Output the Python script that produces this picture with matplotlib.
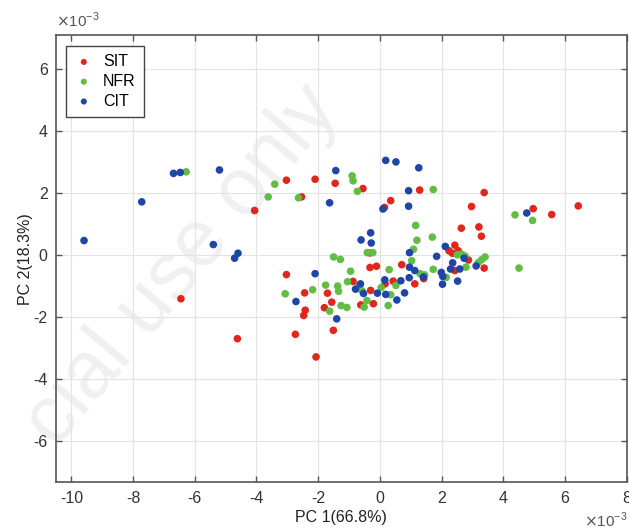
import numpy as np
import matplotlib.pyplot as plt

plt.rcParams['font.family'] = ['Liberation Sans', 'DejaVu Sans']
plt.rcParams['axes.unicode_minus'] = False

# PCA scores, in units of 1e-3
sit_x = [-4.06, -3.03, -2.54, -2.10, -1.45, -0.55, -6.45, -4.62, -3.03, -2.44,
         -2.42, -2.47, -2.74, -2.07, -1.70, -1.80, -1.56, -1.51, -0.87, -0.32,
         -0.32, -0.11, -0.30, -0.62, -0.21, 0.35, 0.15, 1.29, 3.38, 2.97,
         2.64, 3.21, 3.29, 2.43, 2.24, 2.35, 2.54, 2.87, 3.38, 2.43,
         0.71, 1.42, 1.13, 0.43, 0.17, 4.97, 5.57, 6.43]
sit_y = [1.43, 2.41, 1.87, 2.44, 2.31, 2.14, -1.42, -2.71, -0.64, -1.23,
         -1.79, -1.96, -2.57, -3.30, -1.24, -1.71, -1.53, -2.44, -0.86, 0.06,
         -0.41, -0.37, -1.15, -1.62, -1.58, 1.75, 1.53, 2.09, 2.01, 1.56,
         0.86, 0.90, 0.60, 0.31, 0.13, 0.05, 0.13, -0.17, -0.43, -0.51,
         -0.32, -0.77, -0.94, -0.85, -0.94, 1.49, 1.30, 1.58]

nfr_x = [-6.28, -3.62, -3.41, -2.64, -0.90, -0.87, -0.73, 1.73, -3.07, -2.18,
         -1.76, -1.37, -1.34, -1.63, -1.26, -1.07, -1.50, -1.28, -0.41, -0.23,
         -0.95, -1.05, -0.70, -0.58, -0.51, -0.42, 0.04, 0.30, 0.52, 0.35,
         0.27, 1.16, 1.20, 1.70, 1.09, 1.03, 1.73, 1.30, 1.45, 2.15,
         2.51, 2.65, 2.76, 2.79, 3.19, 3.30, 3.41, 4.38, 4.95, 4.51]
nfr_y = [2.68, 1.87, 2.28, 1.84, 2.55, 2.39, 2.05, 2.11, -1.26, -1.13,
         -0.98, -1.01, -1.18, -1.82, -1.64, -1.70, -0.07, -0.15, 0.07, 0.07,
         -0.53, -0.87, -1.03, -1.16, -1.69, -1.48, -1.06, -0.48, -0.99, -1.29,
         -1.64, 0.95, 0.47, 0.57, 0.18, -0.19, -0.47, -0.61, -0.65, -0.73,
         0.00, 0.02, -0.04, -0.40, -0.25, -0.16, -0.07, 1.29, 1.11, -0.43]

cit_x = [-9.59, -7.72, -6.69, -6.47, -5.20, -5.40, -4.71, -4.60, -2.72, -2.10,
         -1.63, -1.43, -1.40, -0.79, -0.63, -0.53, -0.61, -0.30, -0.28, -0.08,
         0.19, 0.52, 1.26, 0.93, 0.93, 0.10, 2.12, 1.84, 0.96, 0.96,
         1.13, 1.99, 2.04, 2.03, 2.52, 2.36, 2.29, 2.59, 2.73, 3.12,
         0.16, 0.68, 0.95, 0.80, 0.19, 0.55, 4.76, 1.41]
cit_y = [0.46, 1.71, 2.63, 2.66, 2.74, 0.33, -0.11, 0.05, -1.51, -0.61,
         1.68, 2.72, -2.07, -1.11, -0.94, -1.25, 0.48, 0.71, 0.38, -1.24,
         3.05, 3.00, 2.81, 2.07, 1.57, 1.48, 0.27, -0.05, 0.07, -0.40,
         -0.51, -0.57, -0.70, -0.95, -0.85, -0.26, -0.46, -0.46, -0.11, -0.36,
         -0.81, -0.84, -0.74, -1.23, -1.28, -1.46, 1.35, -0.72]

groups = ['SIT', 'NFR', 'CIT']
colors = ['#e3261c', '#62bd45', '#1f45a6']
xs = [sit_x, nfr_x, cit_x]
ys = [sit_y, nfr_y, cit_y]

fig = plt.figure(figsize=(6.29, 5.32), dpi=100)
ax = fig.add_axes([0.089, 0.0934, 0.9073, 0.8408])

# faint watermark behind everything
fig.text(0.29, 0.50, 'cial use only', fontsize=58, color='#f0f0f0',
         rotation=50, ha='center', va='center', zorder=-1)
ax.set_facecolor('none')

for name, c, x, y in zip(groups, colors, xs, ys):
    ax.scatter(x, y, s=30, color=c, edgecolors='none', label=name, zorder=3)

ax.set_xlim(-10.5, 8)
ax.set_ylim(-7.35, 7.1)
ax.set_xticks(np.arange(-10, 9, 2))
ax.set_yticks(np.arange(-6, 7, 2))
ax.grid(True, color='#e3e3e3', linewidth=0.8, zorder=0)
ax.set_axisbelow(True)

ax.tick_params(direction='in', length=4, width=1, top=True, right=True,
               color='#555555', labelsize=11.5, labelcolor='#333333', pad=6)
for sp in ax.spines.values():
    sp.set_color('#555555')
    sp.set_linewidth(1.2)

ax.set_xlabel('PC 1(66.8%)', fontsize=11.5, color='#222222', labelpad=3)
ax.set_ylabel('PC 2(18.3%)', fontsize=11.5, color='#222222', labelpad=0)

ax.text(0.0, 1.012, r'$\times$10$^{\mathregular{-3}}$', transform=ax.transAxes,
        fontsize=11, color='#555555', ha='left', va='bottom')
fig.text(0.997, 0.004, r'$\times$10$^{\mathregular{-3}}$',
         fontsize=11, color='#555555', ha='right', va='bottom')

leg = ax.legend(loc='upper left', bbox_to_anchor=(0.004, 0.993), fontsize=11.5,
                frameon=True, fancybox=False, framealpha=1, borderpad=0.5,
                handletextpad=0.6, labelspacing=0.3, handlelength=1.2,
                markerscale=0.8)
leg.get_frame().set_edgecolor('#444444')
leg.get_frame().set_linewidth(1.0)

fig.savefig('out.png', dpi=100)
